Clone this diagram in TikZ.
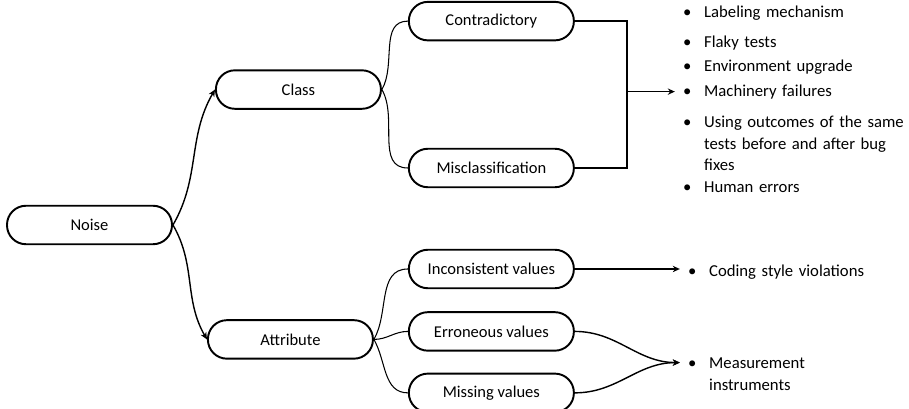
\documentclass[tikz,border=0pt]{standalone}
\usepackage{fontspec}
\setmainfont{Carlito}
\usetikzlibrary{arrows.meta, positioning, calc}

\begin{document}
\begin{tikzpicture}[
  node distance=0.42cm and 0.52cm,
  cat/.style={rectangle, rounded corners=0.38cm, draw=black, line width=1.1pt,
              minimum width=3.3cm, minimum height=0.77cm, inner sep=0pt,
              font=\fontsize{9.4}{11}\selectfont},
  item/.style={anchor=west, inner xsep=0.16cm, inner ysep=0pt, text width=5.4cm,
               align=left, font=\fontsize{9.5}{12.5}\selectfont},
  link/.style={line width=0.6pt},
  bracket/.style={line width=0.9pt},
  arrow/.style={-{Stealth[length=4pt, width=3.6pt]}, line width=0.8pt},
]
\useasboundingbox (-1.79,-3.68) rectangle (16.39,4.5);
\node[cat] (noise) {Noise};
\node[cat, above right=1.9cm and 0.84cm of noise]  (class)     {Class};
\node[cat, below right=1.48cm and 0.68cm of noise] (attribute) {Attribute};
\node[cat, above right=0.56cm and 0.52cm of class] (contra)    {Contradictory};
\node[cat, below right=0.76cm and 0.52cm of class] (miscl)     {Misclassification};
\node[cat, right=0.68cm of attribute, yshift=0.16cm] (errval)  {Erroneous values};
\node[cat, above=0.44cm of errval] (incval)  {Inconsistent values};
\node[cat, below=0.42cm of errval] (missval) {Missing values};

% class causes
\coordinate[right=1.04cm of contra.east] (top);
\coordinate[right=1.04cm of miscl.east]  (bottom);
\coordinate (fork) at ($(top)!0.48!(bottom)$);
\node[item, right=0.96cm of fork] (mach)
  {\makebox[0.42cm][l]{\textbullet}Machinery failures};
\node[item, anchor=base west] (envup) at ([yshift=0.5cm]mach.base west)
  {\makebox[0.42cm][l]{\textbullet}Environment upgrade};
\node[item, anchor=base west] (flaky) at ([yshift=0.98cm]mach.base west)
  {\makebox[0.42cm][l]{\textbullet}Flaky tests};
\node[item, anchor=base west] (label) at ([yshift=1.58cm]mach.base west)
  {\makebox[0.42cm][l]{\textbullet}Labeling mechanism};
\node[item, anchor=north west] (outcomes) at ([yshift=-0.32cm]mach.south west)
  {\makebox[0.42cm][l]{\textbullet}Using outcomes of the same\\
   \hspace*{0.42cm}tests before and after bug\\\hspace*{0.42cm}fixes};
\node[item, anchor=base west] (human) at ([yshift=-1.92cm]mach.base west)
  {\makebox[0.42cm][l]{\textbullet}Human errors};

% attribute causes
\node[item, right=2.1cm of incval, yshift=-0.06cm] (coding)
  {\makebox[0.42cm][l]{\textbullet}Coding style violations};
\node[item, anchor=north west] (meas) at ([yshift=-1.56cm]coding.south west)
  {\makebox[0.42cm][l]{\textbullet}Measurement\\\hspace*{0.42cm}instruments};
\coordinate (meastip) at ([yshift=-0.1cm]meas.north west);

\draw[arrow] (noise.east) to[out=60, in=-120] (class.west);
\draw[arrow] (noise.east) to[out=-60, in=120] (attribute.west);
\draw[link] (class.east) to[out=60, in=180] (contra.west);
\draw[link] (class.east) to[out=-60, in=180] (miscl.west);
\draw[link] (attribute.east) to[out=60, in=180] (incval.west);
\draw[link] (attribute.east) to[out=0, in=180] (errval.west);
\draw[link] (attribute.east) to[out=-60, in=180] (missval.west);

\draw[bracket] (contra.east) -- (top) -- (bottom) -- (miscl.east);
\draw[arrow] (fork) -- (mach.west);
\draw[arrow] (incval.east) -- (incval.east -| coding.west);
\draw[arrow] (errval.east) to[out=0, in=180] (meastip);
\draw[arrow] (missval.east) to[out=0, in=180] (meastip);
\end{tikzpicture}
\end{document}
